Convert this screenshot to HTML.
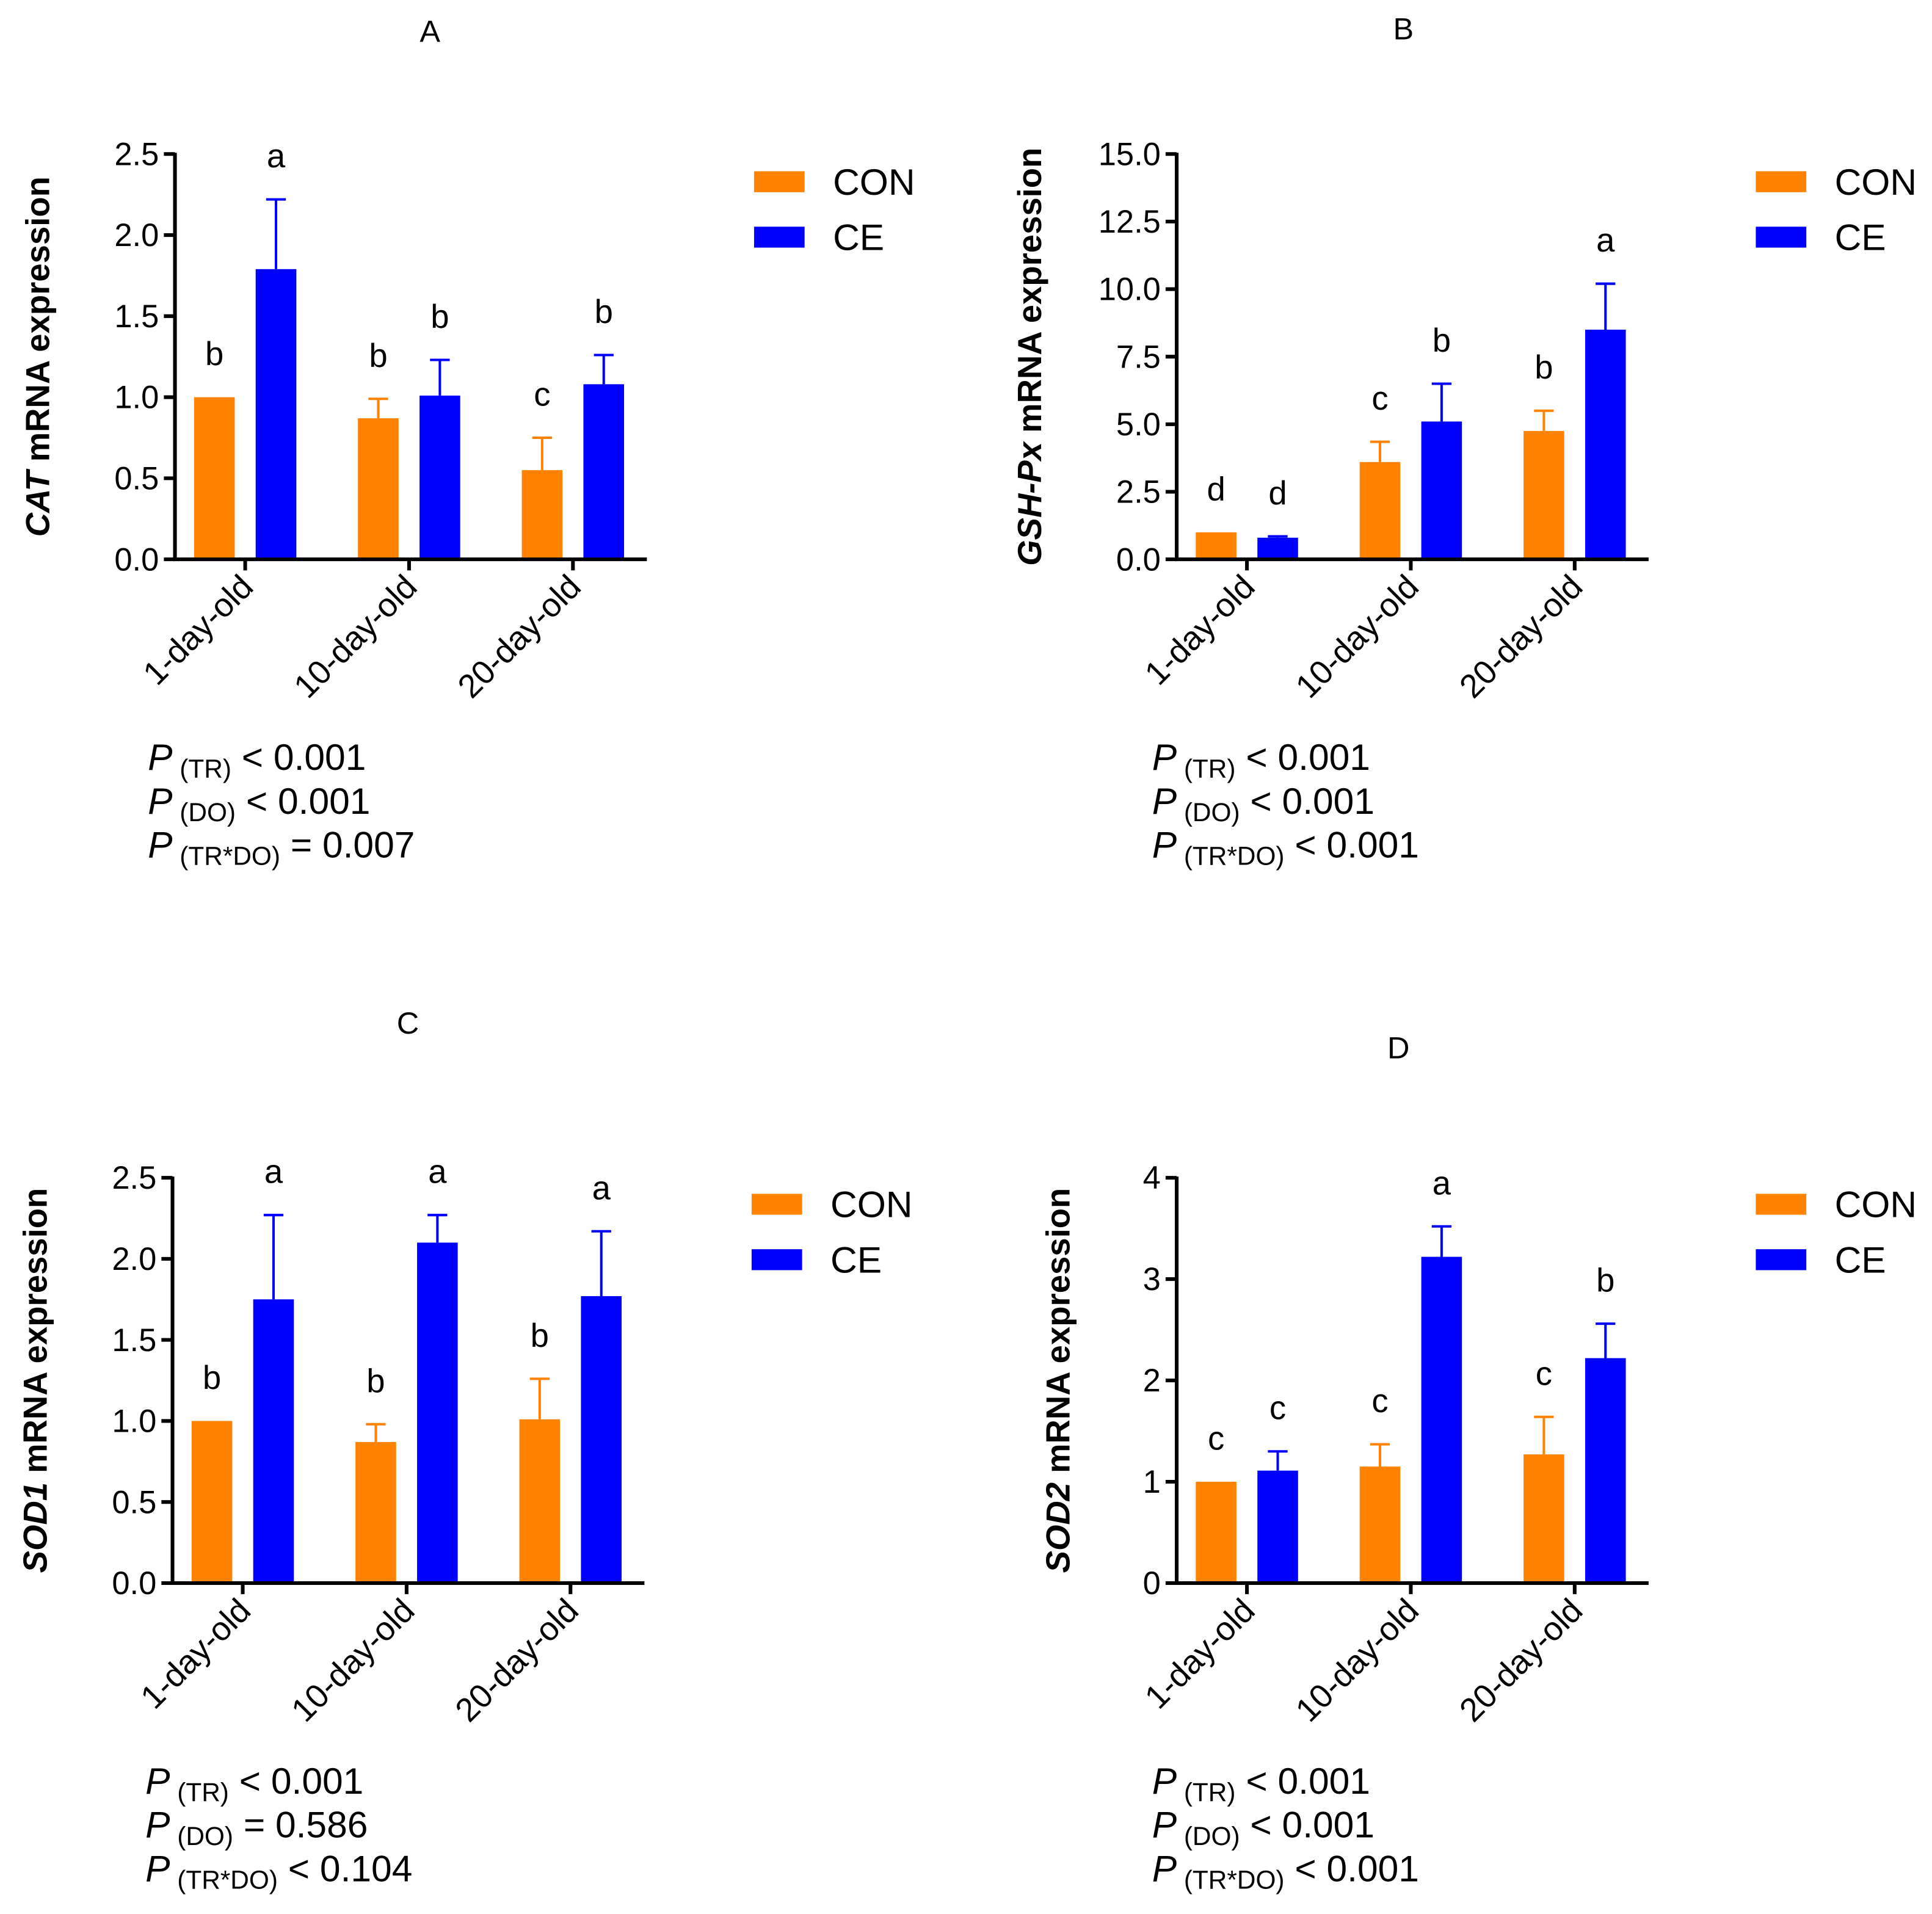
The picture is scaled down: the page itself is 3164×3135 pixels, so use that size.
<!DOCTYPE html>
<html><head><meta charset="utf-8"><style>
html,body{margin:0;padding:0;background:#fff}
svg{display:block}
text{font-family:"Liberation Sans",Arial,sans-serif;fill:#000}
</style></head><body>
<svg id="fig" xmlns="http://www.w3.org/2000/svg" width="3164" height="3135" viewBox="0 0 1568 1553.6"></svg>
<script>
const categories = ["1-day-old","10-day-old","20-day-old"];
const seriesNames = ["CON","CE"];
const aCon = [1.0,0.87,0.55], aConTop = [1.0,0.99,0.75], aCe = [1.79,1.01,1.08], aCeTop = [2.22,1.23,1.26];
const aLetters = [["b","a"],["b","b"],["c","b"]];
const aTicks = ["0.0","0.5","1.0","1.5","2.0","2.5"];
const bCon = [1.0,3.6,4.75], bConTop = [1.0,4.35,5.5], bCe = [0.8,5.1,8.5], bCeTop = [0.85,6.5,10.2];
const bLetters = [["d","d"],["c","b"],["b","a"]];
const bTicks = ["0.0","2.5","5.0","7.5","10.0","12.5","15.0"];
const cCon = [1.0,0.87,1.01], cConTop = [1.0,0.98,1.26], cCe = [1.75,2.1,1.77], cCeTop = [2.27,2.27,2.17];
const cLetters = [["b","a"],["b","a"],["b","a"]];
const cTicks = ["0.0","0.5","1.0","1.5","2.0","2.5"];
const dCon = [1.0,1.15,1.27], dConTop = [1.0,1.37,1.64], dCe = [1.11,3.22,2.22], dCeTop = [1.3,3.52,2.56];
const dLetters = [["c","c"],["c","a"],["c","b"]];
const dTicks = ["0","1","2","3","4"];

const NS="http://www.w3.org/2000/svg";
const svg=document.getElementById('fig');
function mk(tag,attrs,parent,txt){const e=document.createElementNS(NS,tag);for(const k in attrs)e.setAttribute(k,attrs[k]);if(txt!==undefined)e.textContent=txt;(parent||svg).appendChild(e);return e;}
const COL=["#ff8200","#0000ff"];

function panel(o){
  const g=mk('g',{});
  
  
  const x0=o.ax, y0=o.y0, yTop=o.yTop, xEnd=o.ax+383;
  const maxV=parseFloat(o.ticks[o.ticks.length-1]);
  const ys=v=>y0-(v/maxV)*(y0-yTop);
  const groupX=i=>o.ax+57+i*133;
  const t=mk('text',{x:o.tx,y:o.ty,'font-size':25,'text-anchor':'middle'},g,o.id);
  
  const vals=[o.con,o.ce], tops=[o.conTop,o.ceTop];
  for(let i=0;i<categories.length;i++){
    for(let s=0;s<2;s++){
      const cx=groupX(i)+(s===0?-25:25);
      const yv=ys(vals[s][i]);
      const r=mk('rect',{x:cx-16.5,y:yv,width:33,height:y0-yv,fill:COL[s]},g);
      
      
      const yt=ys(tops[s][i]);
      if(tops[s][i]>vals[s][i]){
        const eb=mk('path',{d:`M${cx},${yv}V${yt}M${cx-8},${yt}H${cx+8}`,stroke:COL[s],'stroke-width':2,fill:'none'},g);
        
      }
      const lt=mk('text',{x:cx,y:yt-26,'font-size':27,'text-anchor':'middle'},g,o.letters[i][s]);
      
    }
    const tk=mk('line',{x1:groupX(i),x2:groupX(i),y1:y0,y2:y0+9,stroke:'#000','stroke-width':3},g);
    
    const gx=groupX(i)+8, gy=y0+24;
    const xl=mk('text',{x:gx,y:gy,'font-size':27,'text-anchor':'end',transform:`rotate(-45 ${gx} ${gy})`},g,categories[i]);
    
  }
  const ax=mk('path',{d:`M${x0},${yTop-1}V${y0}H${xEnd}`,stroke:'#000','stroke-width':3,fill:'none'},g);
  
  o.ticks.forEach(tl=>{
    const y=ys(parseFloat(tl));
    const l=mk('line',{x1:x0-9,x2:x0,y1:y,y2:y,stroke:'#000','stroke-width':3},g);
    
    const tx=mk('text',{x:x0-13,y:y+9,'font-size':26,'text-anchor':'end'},g,tl);
    
  });
  const ym=(y0+yTop)/2;
  const yt=mk('text',{x:o.ylx,y:ym,'font-size':27,'font-weight':'bold','text-anchor':'middle',transform:`rotate(-90 ${o.ylx} ${ym})`},g);
  
  mk('tspan',{'font-style':'italic'},yt,o.gene);
  mk('tspan',{},yt,' mRNA expression');
  seriesNames.forEach((n,s)=>{
    const ly=o.legY+s*45;
    const sw=mk('rect',{x:o.legX,y:ly-8,width:41,height:17,fill:COL[s]},g);
    
    const lt=mk('text',{x:o.legX+64,y:ly+11,'font-size':30},g,n);
    
  });
  o.p.forEach((pv,k)=>{
    const py=o.pY+k*35.5;
    const pt=mk('text',{x:o.px,y:py,'font-size':30},g);
    
    mk('tspan',{'font-style':'italic'},pt,'P');
    mk('tspan',{'font-size':21,dy:6},pt,' '+pv[0]);
    mk('tspan',{dy:-6},pt,' '+pv[1]);
  });
}
panel({id:'A',tx:349,ty:34,ax:142,y0:454,yTop:125,ticks:aTicks,con:aCon,conTop:aConTop,ce:aCe,ceTop:aCeTop,letters:aLetters,gene:'CAT',ylx:40,legX:612,legY:147,px:120,pY:625,
  p:[['(TR)','< 0.001'],['(DO)','< 0.001'],['(TR*DO)','= 0.007']]});
panel({id:'B',tx:1139,ty:32,ax:955,y0:454,yTop:125,ticks:bTicks,con:bCon,conTop:bConTop,ce:bCe,ceTop:bCeTop,letters:bLetters,gene:'GSH-Px',ylx:845,legX:1425,legY:147,px:935,pY:625,
  p:[['(TR)','< 0.001'],['(DO)','< 0.001'],['(TR*DO)','< 0.001']]});
panel({id:'C',tx:331,ty:839,ax:140,y0:1285,yTop:956,ticks:cTicks,con:cCon,conTop:cConTop,ce:cCe,ceTop:cCeTop,letters:cLetters,gene:'SOD1',ylx:38,legX:610,legY:977,px:118,pY:1456,
  p:[['(TR)','< 0.001'],['(DO)','= 0.586'],['(TR*DO)','< 0.104']]});
panel({id:'D',tx:1135,ty:859,ax:955,y0:1285,yTop:956,ticks:dTicks,con:dCon,conTop:dConTop,ce:dCe,ceTop:dCeTop,letters:dLetters,gene:'SOD2',ylx:868,legX:1425,legY:977,px:935,pY:1456,
  p:[['(TR)','< 0.001'],['(DO)','< 0.001'],['(TR*DO)','< 0.001']]});
</script>
</body></html>
